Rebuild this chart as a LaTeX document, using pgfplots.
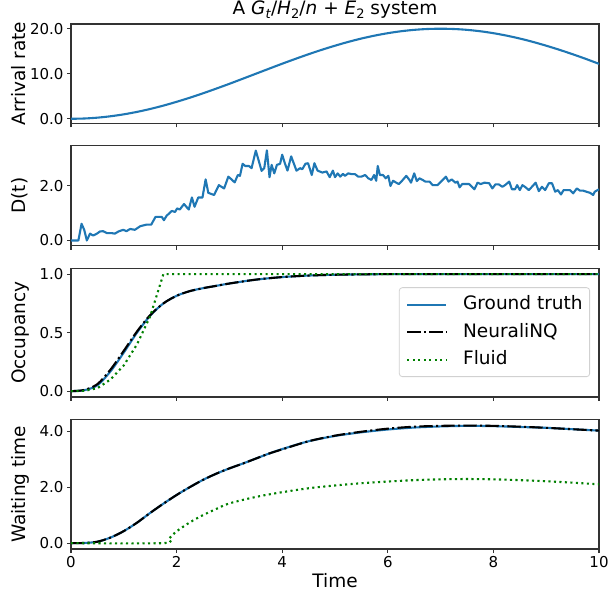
\documentclass[border=0pt]{standalone}
\usepackage{fontspec}
\setmainfont{DejaVu Sans}
\usepackage{pgfplots}
\pgfplotsset{compat=1.18}
\definecolor{mblue}{HTML}{1F77B4}
\definecolor{mgreen}{HTML}{008000}
\newcommand\lbl{\fontsize{18.5bp}{22bp}\selectfont}
\newcommand\tck{\fontsize{15bp}{18bp}\selectfont}
\newcommand\sub[1]{\raisebox{-0.22em}{\fontsize{13bp}{13bp}\selectfont #1}}
\pgfplotsset{
  panel/.style={
    scale only axis, width=528bp, anchor=south west,
    xmin=0, xmax=10, xtick={0,2,4,6,8,10},
    tick align=outside, xtick pos=left, ytick pos=left,
    major tick length=4bp,
    every tick/.style={black!80, line width=1.1bp},
    axis line style={black!80, line width=1.1bp},
    tick label style={font=\tck},
    /pgf/number format/assume math mode=true,
    yticklabel style={/pgf/number format/.cd, fixed, fixed zerofill, precision=1},
    every axis y label/.style={at={(axis description cs:-0.0871,0.5)}, rotate=90, anchor=base, font=\lbl},
    every axis x label/.style={at={(axis description cs:0.5,-0.294)}, anchor=base, font=\lbl},
  },
  gt/.style={mblue, line width=2.1bp},
  nn/.style={black, line width=2.1bp, dash pattern=on 13.3bp off 3.3bp on 2.1bp off 3.3bp},
  fl/.style={mgreen, line width=2.1bp, dash pattern=on 2.1bp off 3.4bp},
}
\begin{document}
\begin{tikzpicture}
\useasboundingbox (0,0) rectangle (609bp,593bp);
% Panel 1
\begin{axis}[panel, at={(71bp,469.7bp)}, height=99.3bp,
  ymin=-1.0, ymax=21.05, ytick={0,10,20}, xticklabels={},
  ylabel={Arrival rate},
  title={A \textit{G}\sub{\textit{t}}/\textit{H}\sub{2}/\textit{n} + \textit{E}\sub{2} system},
  title style={at={(axis description cs:0.5,1.033)}, anchor=base, font=\lbl}]
\addplot[gt, smooth] coordinates {
(0,0) (0.25,0.063) (0.5,0.251) (0.75,0.561) (1,0.990) (1.25,1.533) (1.5,2.18) (1.75,2.929)
(2,3.77) (2.25,4.680) (2.5,5.66) (2.75,6.697) (3,7.77) (3.25,8.880) (3.5,10) (3.75,11.120)
(4,12.23) (4.25,13.303) (4.5,14.34) (4.75,15.320) (5,16.23) (5.25,17.071) (5.5,17.82) (5.75,18.467)
(6,19.01) (6.25,19.439) (6.5,19.75) (6.75,19.937) (7,20) (7.25,19.937) (7.5,19.75) (7.75,19.439)
(8,19.01) (8.25,18.467) (8.5,17.82) (8.75,17.071) (9,16.23) (9.25,15.320) (9.5,14.34) (9.75,13.303) (10,12.2)};
\end{axis}
% Panel 2
\begin{axis}[panel, at={(71bp,347.3bp)}, height=100bp,
  ymin=-0.19, ymax=3.46, ytick={0,2}, xticklabels={},
  ylabel={D(t)}]
\addplot[gt, line join=round] coordinates {
(0,0) (0.14,0) (0.2,0.61) (0.25,0.39) (0.3,0.0) (0.36,0.25) (0.42,0.18) (0.49,0.25) (0.55,0.33)
(0.61,0.34) (0.68,0.27) (0.77,0.27) (0.83,0.25) (0.9,0.33) (0.99,0.39) (1.05,0.34) (1.12,0.42)
(1.21,0.39) (1.31,0.52) (1.43,0.58) (1.52,0.58) (1.6,0.86) (1.72,0.86) (1.76,0.74) (1.81,0.90)
(1.91,1.08) (1.97,1.04) (2.01,1.17) (2.06,1.13) (2.14,1.33) (2.23,1.13) (2.29,1.57) (2.34,1.23)
(2.41,1.57) (2.49,1.57) (2.55,2.23) (2.6,1.74) (2.71,1.66) (2.8,2.02) (2.9,1.90) (2.98,2.33)
(3.04,2.23) (3.1,2.12) (3.16,2.39) (3.2,2.36) (3.25,2.80) (3.3,2.72) (3.37,2.72) (3.42,2.64)
(3.5,3.28) (3.56,2.88) (3.61,2.54) (3.66,2.64) (3.71,3.29) (3.76,2.31) (3.8,2.76) (3.85,2.45)
(3.9,2.76) (3.96,2.80) (4.0,3.13) (4.05,2.82) (4.1,2.55) (4.17,3.07) (4.23,2.76) (4.27,2.55)
(4.34,2.64) (4.38,2.60) (4.44,2.80) (4.49,2.82) (4.56,2.39) (4.61,2.82) (4.67,2.55) (4.76,2.48)
(4.84,2.52) (4.9,2.31) (4.96,2.55) (5.0,2.31) (5.05,2.45) (5.1,2.33) (5.15,2.43) (5.19,2.36)
(5.25,2.45) (5.32,2.42) (5.38,2.42) (5.44,2.33) (5.5,2.33) (5.57,2.39) (5.63,2.27) (5.69,2.21)
(5.74,2.39) (5.78,2.18) (5.81,2.72) (5.85,2.39) (5.91,2.39) (5.96,2.27) (6.01,2.36) (6.05,1.99)
(6.1,2.18) (6.16,2.11) (6.21,2.06) (6.27,2.18) (6.35,2.36) (6.41,2.21) (6.44,2.11) (6.5,2.45)
(6.55,2.17) (6.6,2.27) (6.66,2.21) (6.71,2.15) (6.79,2.15) (6.85,2.02) (6.94,2.02) (7.04,2.21)
(7.1,2.33) (7.15,2.15) (7.21,2.23) (7.28,2.11) (7.32,2.15) (7.36,1.94) (7.41,2.06) (7.48,2.06)
(7.54,2.06) (7.64,1.87) (7.7,2.11) (7.76,2.06) (7.83,2.11) (7.92,2.09) (7.98,1.90) (8.04,2.05)
(8.1,2.05) (8.17,1.96) (8.22,2.02) (8.3,2.15) (8.35,1.87) (8.41,1.87) (8.45,2.02) (8.5,1.84)
(8.55,2.02) (8.61,1.94) (8.67,1.84) (8.73,1.96) (8.8,2.11) (8.86,1.80) (8.92,1.96) (8.98,1.84)
(9.05,2.09) (9.11,2.09) (9.17,1.78) (9.22,1.84) (9.28,1.68) (9.33,1.84) (9.39,1.84) (9.45,1.84)
(9.51,1.72) (9.58,1.90) (9.64,1.82) (9.7,1.82) (9.76,1.78) (9.83,1.74) (9.89,1.66) (9.92,1.78) (10,1.87)};
\end{axis}
% Panel 3
\begin{axis}[panel, at={(71bp,196bp)}, height=128.7bp,
  ymin=-0.05, ymax=1.05, ytick={0,0.5,1}, xticklabels={},
  ylabel={Occupancy},
  legend cell align=left,
  legend image code/.code={\draw[#1] (0bp,0bp) -- (39bp,0bp);},
  legend style={at={(rel axis cs:0.983,0.155)}, anchor=south east,
    draw=black!18, line width=0.8bp, rounded corners=3bp, fill=white, fill opacity=0.8, text opacity=1,
    font=\lbl, inner xsep=7bp, inner ysep=8bp, row sep=9.5bp,
    nodes={inner sep=0pt, text height=14bp, text depth=4bp},
    /tikz/every odd column/.append style={column sep=15.7bp}}]
\addplot[gt, smooth] coordinates {
(0,0) (0.25,0.008) (0.5,0.05) (0.75,0.17) (1,0.33) (1.25,0.50) (1.5,0.645) (1.75,0.75)
(2,0.815) (2.25,0.855) (2.5,0.88) (2.75,0.90) (3,0.92) (3.5,0.953) (4,0.975) (4.5,0.988)
(5,0.995) (5.5,0.998) (6,1.0) (7,1.0) (10,1.0)};
\addlegendentry{Ground truth}
\addplot[nn, smooth] coordinates {
(0,0) (0.25,0.01) (0.5,0.06) (0.75,0.185) (1,0.345) (1.25,0.51) (1.5,0.65) (1.75,0.75)
(2,0.815) (2.25,0.855) (2.5,0.88) (2.75,0.90) (3,0.92) (3.5,0.953) (4,0.975) (4.5,0.988)
(5,0.995) (5.5,0.998) (6,1.0) (7,1.0) (10,1.0)};
\addlegendentry{NeuraliNQ}
\addplot[fl] coordinates {
(0,0) (0.25,0.002) (0.5,0.025) (0.75,0.10) (1,0.22) (1.25,0.40) (1.5,0.64) (1.75,1.0) (10,1.0)};
\addlegendentry{Fluid}
\end{axis}
% Panel 4
\begin{axis}[panel, at={(71bp,44bp)}, height=129.3bp,
  ymin=-0.21, ymax=4.41, ytick={0,2,4},
  ylabel={Waiting time}, xlabel={Time}]
\addplot[gt, smooth] coordinates {
(0,0) (0.25,0.005) (0.5,0.05) (0.75,0.2) (1,0.43) (1.25,0.73) (1.5,1.08) (1.75,1.41)
(2,1.72) (2.25,2.0) (2.5,2.26) (2.75,2.48) (3,2.67) (3.25,2.84) (3.5,3.02) (3.75,3.2)
(4,3.36) (4.5,3.64) (5,3.83) (5.5,3.96) (6,4.06) (6.5,4.13) (7,4.17) (7.5,4.19)
(8,4.18) (8.5,4.15) (9,4.12) (9.5,4.07) (10,4.02)};
\addplot[nn, smooth] coordinates {
(0,0) (0.25,0.005) (0.5,0.05) (0.75,0.2) (1,0.43) (1.25,0.73) (1.5,1.08) (1.75,1.41)
(2,1.72) (2.25,2.0) (2.5,2.26) (2.75,2.48) (3,2.67) (3.25,2.84) (3.5,3.02) (3.75,3.2)
(4,3.35) (4.5,3.64) (5,3.84) (5.5,3.98) (6,4.09) (6.5,4.16) (7,4.19) (7.5,4.2)
(8,4.19) (8.5,4.16) (9,4.12) (9.5,4.07) (10,4.02)};
\addplot[fl, smooth] coordinates {
(0,0) (1.75,0) (1.85,0.15) (2,0.42) (2.25,0.74) (2.5,1.0) (2.75,1.22) (3,1.42) (3.5,1.65)
(4,1.82) (4.5,1.96) (5,2.06) (5.5,2.14) (6,2.2) (6.5,2.25) (7,2.28) (7.5,2.29) (8,2.28)
(8.5,2.25) (9,2.21) (9.5,2.16) (10,2.1)};
\end{axis}
\end{tikzpicture}
\end{document}
